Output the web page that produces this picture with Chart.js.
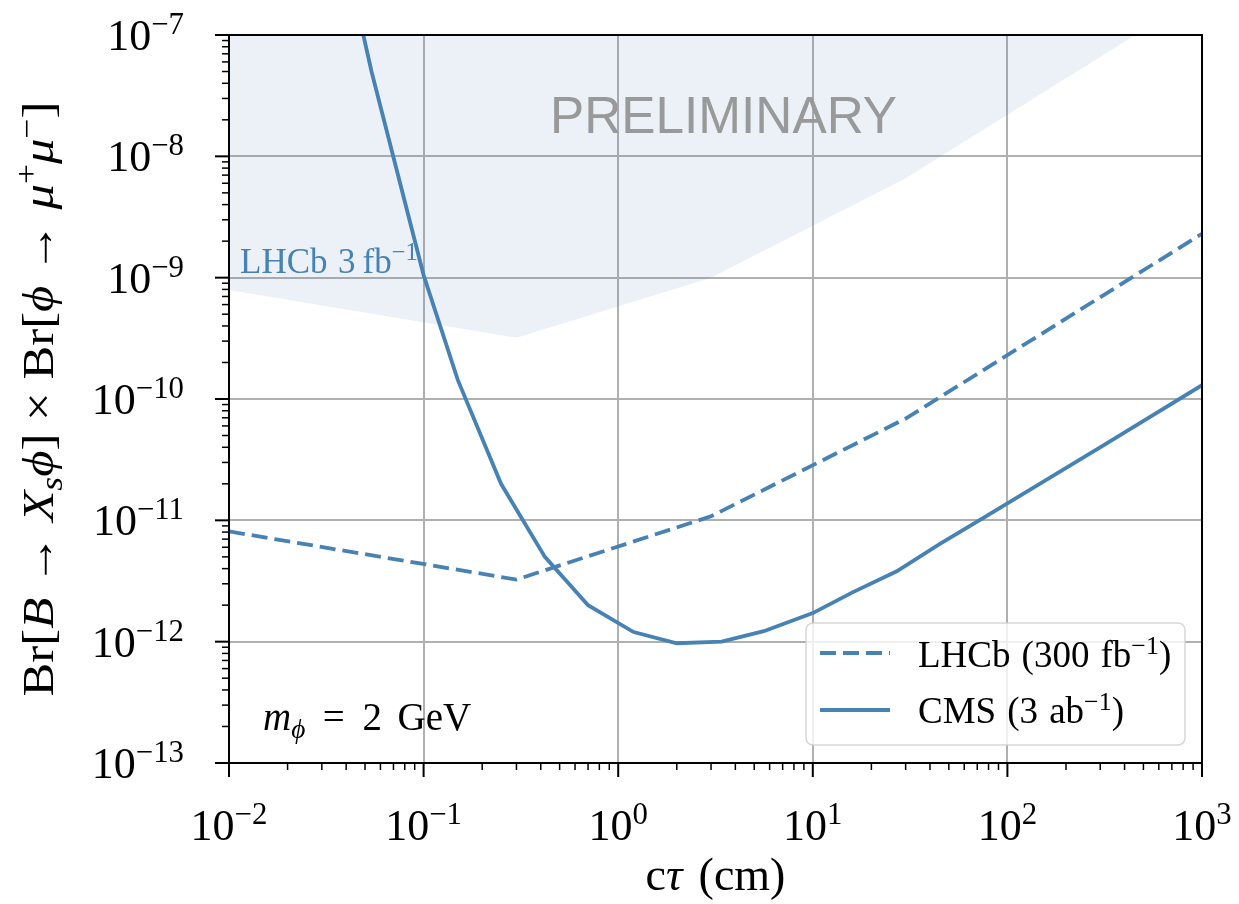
<!DOCTYPE html>
<html>
<head>
<meta charset="utf-8">
<script src="https://cdn.jsdelivr.net/npm/chart.js@4.4.1/dist/chart.umd.min.js"></script>
<style>
  html, body { margin: 0; padding: 0; background: #fff; }
  canvas { display: block; }
</style>
</head>
<body>
<canvas id="limitChart" width="1239" height="904"></canvas>
<script>
// ---- data ----
const lhcbX = [0.01, 0.3, 3, 30, 1000];
const lhcbY = [8.1e-12, 3.25e-12, 1.08e-11, 6.9e-11, 2.3e-9];

const cmsX = [0.047, 0.054, 0.1, 0.15, 0.25, 0.42, 0.7, 1.2, 2.0, 3.4, 5.6, 10, 16, 27, 45, 76, 100, 316, 1000];
const cmsY = [1.35e-7, 5e-8, 1.05e-9, 1.43e-10, 2.0e-11, 5.0e-12, 2.0e-12, 1.2e-12, 0.97e-12, 1.0e-12,
              1.22e-12, 1.72e-12, 2.55e-12, 3.8e-12, 6.4e-12, 1.06e-11, 1.38e-11, 4.2e-11, 1.3e-10];

// LHCb 3 fb^-1 excluded region (lower edge, filled up to the top)
const shadeX = [0.01, 0.3, 3, 30, 1000];
const shadeY = [7.9e-10, 3.2e-10, 1.0e-9, 6.6e-9, 2.2e-7];

const xTickVals = [1e-2, 1e-1, 1, 10, 100, 1000];
const xTickExp = ["−2", "−1", "0", "1", "2", "3"];
const yTickVals = [1e-13, 1e-12, 1e-11, 1e-10, 1e-9, 1e-8, 1e-7];
const yTickExp = ["−13", "−12", "−11", "−10", "−9", "−8", "−7"];

const BLUE = "#4682b4";
const SERIF = '"Liberation Serif", "DejaVu Serif", serif';

function toPts(xs, ys) {
  return xs.map((x, i) => ({ x: x, y: ys[i] }));
}

// draw a run of text pieces with sub/superscripts on one baseline
// seg: t = text, i = italic, s = 1 sup / -1 sub, g = extra gap in em
function drawRich(ctx, segs, x, y, size, align, color) {
  const parts = segs.map((s) => {
    const sz = s.s ? size * 0.7 : size;
    const font = (s.i ? "italic " : "") + sz + "px " + SERIF;
    ctx.font = font;
    let dy = 0;
    if (s.s === 1) dy = -size * 0.36;
    if (s.s === -1) dy = size * 0.2;
    const w = s.g ? s.g * size : ctx.measureText(s.t).width;
    return { t: s.g ? "" : s.t, font: font, w: w, dy: dy };
  });
  const total = parts.reduce((a, p) => a + p.w, 0);
  let cx = x;
  if (align === "center") cx = x - total / 2;
  if (align === "right") cx = x - total;
  if (color) {
    ctx.fillStyle = color;
    ctx.textAlign = "left";
    ctx.textBaseline = "alphabetic";
    parts.forEach((p) => {
      ctx.font = p.font;
      if (p.t) ctx.fillText(p.t, cx, y + p.dy);
      cx += p.w;
    });
  }
  return total;
}

const decorPlugin = {
  id: "decor",
  beforeDatasetsDraw(chart) {
    const ctx = chart.ctx;
    const a = chart.chartArea;
    const xs = chart.scales.x, ys = chart.scales.y;
    ctx.save();
    ctx.strokeStyle = "#b0b0b0";
    ctx.lineWidth = 2;
    xTickVals.forEach((v) => {
      const px = Math.round(xs.getPixelForValue(v));
      ctx.beginPath(); ctx.moveTo(px, a.top); ctx.lineTo(px, a.bottom); ctx.stroke();
    });
    yTickVals.forEach((v) => {
      const py = Math.round(ys.getPixelForValue(v));
      ctx.beginPath(); ctx.moveTo(a.left, py); ctx.lineTo(a.right, py); ctx.stroke();
    });
    ctx.restore();
  },
  afterDatasetsDraw(chart) {
    const ctx = chart.ctx;
    const a = chart.chartArea;
    const xs = chart.scales.x, ys = chart.scales.y;
    ctx.save();

    // watermark
    ctx.fillStyle = "#999999";
    ctx.font = '51px "Liberation Sans", Arial, sans-serif';
    ctx.textAlign = "left";
    ctx.textBaseline = "alphabetic";
    const pw = ctx.measureText("PRELIMINARY").width;
    ctx.save();
    ctx.translate(550, 133);
    ctx.scale(347 / pw, 1);
    ctx.fillText("PRELIMINARY", 0, 0);
    ctx.restore();

    // in-plot labels
    drawRich(ctx, [{ t: "LHCb" }, { g: 0.3 }, { t: "3" }, { g: 0.2 }, { t: "fb" }, { t: "−1", s: 1 }], 240, 273, 35, "left", BLUE);
    drawRich(ctx, [{ t: "m", i: 1 }, { t: "ϕ", i: 1, s: -1 }, { g: 0.45 }, { t: "=" }, { g: 0.45 },
                   { t: "2" }, { g: 0.4 }, { t: "GeV" }], 263, 730, 39, "left", "#000");

    // spines
    ctx.strokeStyle = "#000";
    ctx.lineWidth = 2;
    ctx.strokeRect(a.left, a.top, a.right - a.left, a.bottom - a.top);

    // ticks
    for (let e = -2; e <= 3; e++) {
      for (let k = 1; k <= 9; k++) {
        const v = k * Math.pow(10, e);
        if (v > 1000 * 1.0001) break;
        const px = xs.getPixelForValue(v);
        ctx.lineWidth = k === 1 ? 2 : 1.5;
        ctx.beginPath(); ctx.moveTo(px, a.bottom); ctx.lineTo(px, a.bottom + (k === 1 ? 14 : 7)); ctx.stroke();
      }
    }
    for (let e = -13; e <= -7; e++) {
      for (let k = 1; k <= 9; k++) {
        const v = k * Math.pow(10, e);
        if (v > 1e-7 * 1.0001) break;
        const py = ys.getPixelForValue(v);
        ctx.lineWidth = k === 1 ? 2 : 1.5;
        ctx.beginPath(); ctx.moveTo(a.left, py); ctx.lineTo(a.left - (k === 1 ? 14 : 7), py); ctx.stroke();
      }
    }

    // tick labels
    xTickVals.forEach((v, i) => {
      drawRich(ctx, [{ t: "10" }, { t: xTickExp[i], s: 1 }], xs.getPixelForValue(v), 840, 44, "center", "#000");
    });
    yTickVals.forEach((v, i) => {
      drawRich(ctx, [{ t: "10" }, { t: yTickExp[i], s: 1 }], 184, ys.getPixelForValue(v) + 15, 44, "right", "#000");
    });

    // axis titles
    drawRich(ctx, [{ t: "c" }, { t: "τ", i: 1 }, { g: 0.35 }, { t: "(cm)" }], (a.left + a.right) / 2, 890, 46, "center", "#000");

    const yLabel = [
      { t: "Br[" }, { t: "B", i: 1 }, { t: " → " }, { t: "X", i: 1 }, { t: "s", i: 1, s: -1 },
      { t: "ϕ", i: 1 }, { t: "] × Br[" }, { t: "ϕ", i: 1 }, { t: " → " }, { t: "μ", i: 1 },
      { t: "+", s: 1 }, { t: "μ", i: 1 }, { t: "−", s: 1 }, { t: "]" }
    ];
    ctx.save();
    ctx.translate(53, (a.top + a.bottom) / 2);
    ctx.rotate(-Math.PI / 2);
    const w = drawRich(ctx, yLabel, 0, 0, 45, "center", null);
    ctx.scale(595 / w, 1);
    drawRich(ctx, yLabel, 0, 0, 45, "center", "#000");
    ctx.restore();

    // legend
    const lx = 806, ly = 623, lw = 379, lh = 122;
    ctx.fillStyle = "rgba(255,255,255,0.8)";
    ctx.strokeStyle = "rgba(204,204,204,0.8)";
    ctx.lineWidth = 1.5;
    ctx.beginPath();
    ctx.roundRect(lx, ly, lw, lh, 7);
    ctx.fill();
    ctx.stroke();

    ctx.strokeStyle = BLUE;
    ctx.lineWidth = 3.8;
    ctx.setLineDash([16, 7]);
    ctx.beginPath(); ctx.moveTo(820, 653); ctx.lineTo(890, 653); ctx.stroke();
    ctx.setLineDash([]);
    ctx.beginPath(); ctx.moveTo(820, 710); ctx.lineTo(890, 710); ctx.stroke();

    drawRich(ctx, [{ t: "LHCb" }, { g: 0.3 }, { t: "(300" }, { g: 0.3 }, { t: "fb" }, { t: "−1", s: 1 }, { t: ")" }], 918, 667, 37, "left", "#000");
    drawRich(ctx, [{ t: "CMS" }, { g: 0.3 }, { t: "(3" }, { g: 0.3 }, { t: "ab" }, { t: "−1", s: 1 }, { t: ")" }], 918, 723, 37, "left", "#000");

    ctx.restore();
  }
};

const ctx = document.getElementById("limitChart").getContext("2d");

new Chart(ctx, {
  type: "line",
  data: {
    datasets: [
      {
        label: "LHCb (300 fb⁻¹)",
        data: toPts(lhcbX, lhcbY),
        borderColor: BLUE,
        borderWidth: 3.8,
        borderDash: [16, 7],
        pointRadius: 0,
        fill: false,
        tension: 0,
      },
      {
        label: "CMS (3 ab⁻¹)",
        data: toPts(cmsX, cmsY),
        borderColor: BLUE,
        borderWidth: 3.8,
        pointRadius: 0,
        fill: false,
        tension: 0,
      },
      {
        label: "LHCb 3 fb⁻¹",
        data: toPts(shadeX, shadeY),
        borderWidth: 0,
        borderColor: "rgba(0,0,0,0)",
        backgroundColor: "rgba(70,130,180,0.11)",
        pointRadius: 0,
        fill: "end",
        tension: 0,
      },
    ],
  },
  options: {
    responsive: false,
    animation: false,
    devicePixelRatio: 1,
    layout: { padding: { left: 229, right: 37, top: 35, bottom: 141 } },
    plugins: {
      legend: { display: false },
      tooltip: { enabled: false },
    },
    scales: {
      x: { type: "logarithmic", min: 0.01, max: 1000, display: false },
      y: { type: "logarithmic", min: 1e-13, max: 1e-7, display: false },
    },
  },
  plugins: [decorPlugin],
});
</script>
</body>
</html>
